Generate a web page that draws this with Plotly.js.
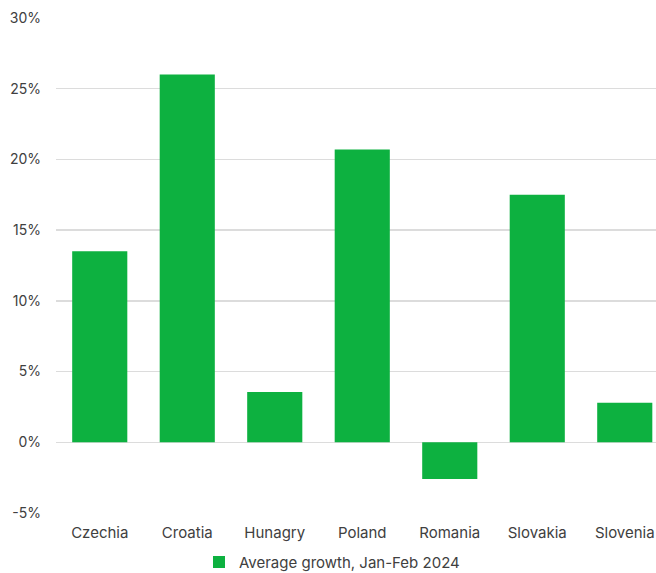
<!DOCTYPE html>
<html><head><meta charset="utf-8">
<script src="https://cdn.plot.ly/plotly-3.0.1.min.js"></script>
<style>html,body{margin:0;padding:0;background:#fff}</style>
</head><body><div id="chart" style="width:656px;height:573px"></div>
<script>
const countries = ["Czechia","Croatia","Hunagry","Poland","Romania","Slovakia","Slovenia"];
const growth = [13.5, 26.0, 3.55, 20.7, -2.6, 17.5, 2.8];
const yTickVals = [-5, 0, 5, 10, 15, 20, 25, 30];
const yTickText = ["-5%","0%","5%","10%","15%","20%","25%","30%"];
const seriesName = "Average growth, Jan-Feb 2024";

Plotly.newPlot("chart", [{
  type: "bar", x: countries, y: growth, name: seriesName,
  marker: {color: "#0db140"}, showlegend: true
}], {
  width: 656, height: 573,
  margin: {l: 56, r: 0, t: 18, b: 60, autoexpand: false},
  paper_bgcolor: "#fff", plot_bgcolor: "#fff",
  font: {family: "Inter, 'Noto Sans', sans-serif", size: 14, color: "#404040"},
  bargap: 0.37,
  showlegend: true,
  xaxis: {range: [-0.5, 6.357], showgrid: false, zeroline: false, showline: false,
          ticks: "", ticklabelstandoff: 9, tickfont: {size: 15, color: "#404040"}, automargin: false},
  yaxis: {range: [-5, 30], tickvals: yTickVals, ticktext: yTickText,
          showgrid: true, gridcolor: "#dcdcdc", gridwidth: 1.3, zeroline: false,
          ticks: "", ticklabelstandoff: 14, tickfont: {size: 14, color: "#404040"}, automargin: false},
  legend: {orientation: "h", x: 0.46, xanchor: "center", xref: "paper",
           y: -0.066, yanchor: "top", yref: "paper",
           font: {size: 15, color: "#404040"}, itemwidth: 30}
}, {displayModeBar: false, staticPlot: true});
</script></body></html>
